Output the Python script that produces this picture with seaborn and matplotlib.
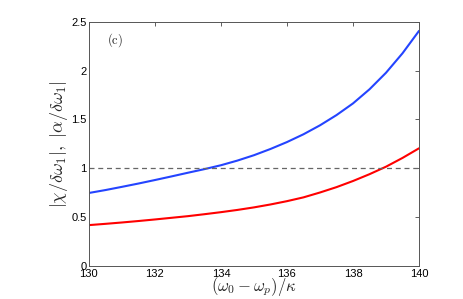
import numpy as np
import pandas as pd
import matplotlib
matplotlib.use("Agg")
import matplotlib.pyplot as plt
import seaborn as sns

detuning = [130.0, 130.5, 131.0, 131.5, 132.0, 132.5, 133.0, 133.5, 134.0, 134.5,
            135.0, 135.5, 136.0, 136.5, 137.0, 137.5, 138.0, 138.5, 139.0, 139.5, 140.0]
chi_ratio = [0.745, 0.775, 0.808, 0.842, 0.878, 0.915, 0.953, 0.99, 1.03, 1.078,
             1.133, 1.197, 1.268, 1.348, 1.44, 1.545, 1.665, 1.81, 1.98, 2.18, 2.41]
alpha_ratio = [0.415, 0.428, 0.442, 0.457, 0.473, 0.49, 0.507, 0.527, 0.548, 0.571,
               0.597, 0.627, 0.661, 0.70, 0.75, 0.805, 0.868, 0.938, 1.015, 1.105, 1.204]
xticks = [130, 132, 134, 136, 138, 140]
yticks = [0, 0.5, 1, 1.5, 2, 2.5]
ytick_labels = ["0", "0.5", "1", "1.5", "2", "2.5"]

df = pd.DataFrame({
    "detuning": detuning * 2,
    "value": chi_ratio + alpha_ratio,
    "curve": ["chi"] * len(detuning) + ["alpha"] * len(detuning),
})

sns.set_style("white")
plt.rcParams["mathtext.fontset"] = "cm"
plt.rcParams["font.family"] = ["Liberation Sans", "DejaVu Sans"]

fig = plt.figure(figsize=(4.63, 2.99), dpi=100)
ax = fig.add_axes([0.192, 0.112, 0.713, 0.814])

sns.lineplot(data=df, x="detuning", y="value", hue="curve",
             palette={"chi": "#2444ff", "alpha": "#ff0000"},
             linewidth=1.5, legend=False, ax=ax)
ax.axhline(1.0, color="#666666", linestyle=(0, (4, 3)), linewidth=0.9)

ax.set_xlim(130, 140)
ax.set_ylim(0, 2.5)
ax.set_xticks(xticks)
ax.set_yticks(yticks)
ax.set_yticklabels(ytick_labels)
ax.tick_params(direction="in", length=3, width=0.6, colors="#444444",
               labelcolor="black", labelsize=8, top=True, right=True, pad=1.5)
ax.tick_params(axis="x", pad=2.5)
for s in ax.spines.values():
    s.set_color("#555555")
    s.set_linewidth(0.7)

ax.set_xlabel(r"$(\omega_0-\omega_p)/\kappa$", fontsize=12, labelpad=-3)
ax.set_ylabel(r"$|\chi/\delta\omega_1|,\ |\alpha/\delta\omega_1|$", fontsize=13, labelpad=1)
ax.text(130.55, 2.32, r"$\mathrm{(c)}$", fontsize=9, va="center")

fig.savefig("out.png", dpi=100)
